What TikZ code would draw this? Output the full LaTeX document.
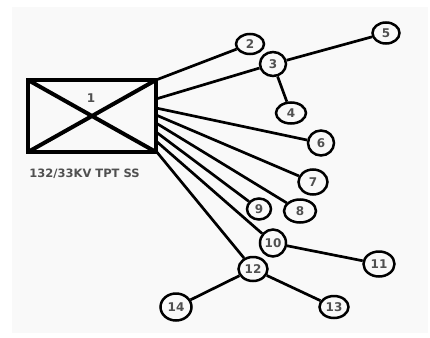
\documentclass[tikz,border=0pt]{standalone}
\usepackage{fontspec}
\setmainfont{DejaVu Sans}
\usetikzlibrary{shapes.geometric,calc}
\definecolor{txt}{HTML}{505050}
\definecolor{bg}{HTML}{F9F9F9}
\begin{document}
\begin{tikzpicture}[x=1pt,y=-1pt,
  ell/.style={ellipse,draw,line width=2.5pt,inner sep=0pt,fill=bg,
    font=\bfseries\fontsize{12}{12}\selectfont,text=txt},
  wire/.style={line width=2.7pt},
  lbl/.style={font=\bfseries\fontsize{11.5}{11.5}\selectfont,text=txt,inner sep=0pt}]
\useasboundingbox (0,0) rectangle (430,337);
\fill[bg] (12,7) rectangle (428,333);
% substation box
\node[draw,line width=4pt,minimum width=128pt,minimum height=72pt,inner sep=0pt,outer sep=0pt] (box) at (92,116) {};
\draw[line width=4pt] (box.north west) -- (box.south east) (box.north east) -- (box.south west);
\node[lbl,font=\bfseries\fontsize{12}{12}\selectfont] (one) at (91,98) {1};
\node[lbl] (cap) at (84.5,174) {132/33KV TPT SS};
% feeder start points on the box
\coordinate (s2) at (box.north east);
\coordinate (s3) at ($(box.north east)+(0,19)$);
\coordinate (s6) at ($(box.north east)+(0,28)$);
\coordinate (s7) at ($(box.north east)+(0,35)$);
\coordinate (s8) at ($(box.north east)+(0,43)$);
\coordinate (s9) at ($(box.north east)+(0,52)$);
\coordinate (s10) at ($(box.north east)+(0,61)$);
\coordinate (s12) at ($(box.north east)+(0,71)$);
% nodes
\node[ell,minimum width=28pt,minimum height=20pt] (n2) at (250,44) {2};
\node[ell,minimum width=26pt,minimum height=24pt] (n3) at (273,64) {3};
\node[ell,minimum width=27pt,minimum height=21pt] (n5) at (386,33) {5};
\node[ell,minimum width=30pt,minimum height=21pt] (n4) at (291,113) {4};
\node[ell,minimum width=26pt,minimum height=25pt] (n6) at (321,143) {6};
\node[ell,minimum width=29pt,minimum height=25pt] (n7) at (313,182) {7};
\node[ell,minimum width=24pt,minimum height=21pt] (n9) at (259,209) {9};
\node[ell,minimum width=32pt,minimum height=23pt] (n8) at (300,211) {8};
\node[ell,minimum width=26pt,minimum height=27pt] (n10) at (273,243) {10};
\node[ell,minimum width=31pt,minimum height=25pt] (n11) at (379,264) {11};
\node[ell,minimum width=29pt,minimum height=24pt] (n12) at (253,269) {12};
\node[ell,minimum width=29pt,minimum height=22pt] (n13) at (334,307) {13};
\node[ell,minimum width=31pt,minimum height=27pt] (n14) at (176,307) {14};
% connectors
\draw[wire] (s2) -- (n2);
\draw[wire] (s3) -- (n3);
\draw[wire] (s6) -- (n6);
\draw[wire] (s7) -- (n7);
\draw[wire] (s8) -- (n8);
\draw[wire] (s9) -- (n9);
\draw[wire] (s10) -- (n10);
\draw[wire] (s12) -- (n12);
\draw[wire] (n3) -- (n5);
\draw[wire] (n3) -- (n4);
\draw[wire] (n10) -- (n11);
\draw[wire] (n12) -- (n13);
\draw[wire] (n12) -- (n14);
\end{tikzpicture}
\end{document}
